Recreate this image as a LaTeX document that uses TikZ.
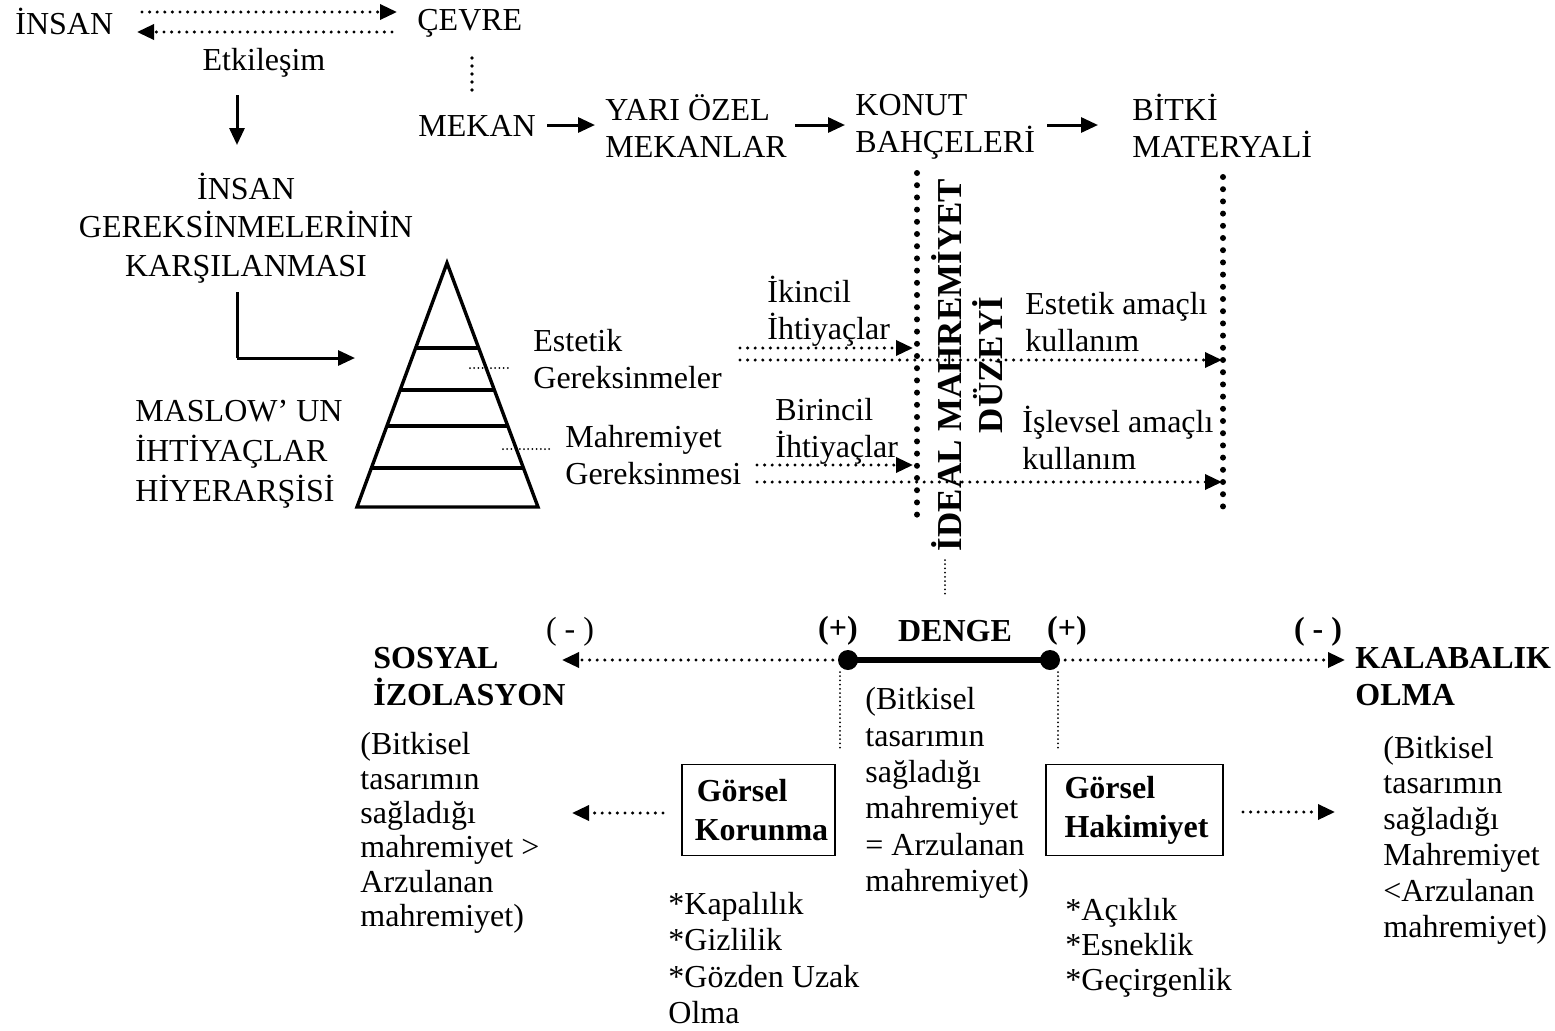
\documentclass[tikz,border=0pt]{standalone}
\usepackage{fontspec}
\setmainfont{Liberation Serif}
\usetikzlibrary{arrows.meta,calc}
\begin{document}
\begin{tikzpicture}[x=0.5pt,y=-0.5pt,
  txt/.style={inner sep=0pt, anchor=west, align=left, font=\fontsize{16}{18.5}\selectfont},
  ctxt/.style={inner sep=0pt, align=center, font=\fontsize{16}{18.5}\selectfont},
  btxt/.style={inner sep=0pt, anchor=west, align=left, font=\bfseries\fontsize{16}{18.5}\selectfont},
  cbtxt/.style={inner sep=0pt, align=center, font=\bfseries\fontsize{16}{18.5}\selectfont},
  dotarrow/.style={line width=1.7pt, line cap=round, dash pattern=on 0pt off 3.8pt, -{Triangle[length=8.5pt,width=7.5pt]}},
  bigdots/.style={line width=3pt, line cap=round, dash pattern=on 0pt off 6.1pt},
  middots/.style={line width=1.9pt, line cap=round, dash pattern=on 0pt off 4pt},
  thindots/.style={line width=1pt, line cap=round, dash pattern=on 0pt off 2.1pt},
  solidarrow/.style={line width=1.5pt, -{Triangle[length=8.5pt,width=7.5pt]}},
  boxnode/.style={draw, line width=0.8pt, minimum width=76.5pt, minimum height=45.5pt, inner sep=0pt, align=left, font=\bfseries\fontsize{16}{19.5}\selectfont},
]
\useasboundingbox (0,0) rectangle (1555,1030);
\fill[white] (0,0) rectangle (1555,1030);

% ---- top row
\node[txt] (insan) at (15,21) {İNSAN};
\node[txt] (cevre) at (417,23) {ÇEVRE};
\node[ctxt] (etk) at (264,63) {Etkileşim};
\coordinate (a1s) at (142,12); \coordinate (a1e) at (397,12);
\coordinate (a2s) at (392,32); \coordinate (a2e) at (137,32);
\draw[dotarrow] (a1s) -- (a1e);
\draw[dotarrow] (a2s) -- (a2e);
\coordinate (cv1) at (472,58); \coordinate (cv2) at (472,92);
\draw[middots] (cv1) -- (cv2);

% ---- second row
\node[txt] (mekan) at (418,126) {MEKAN};
\node[txt] (yari) at (605,126) {YARI ÖZEL\\MEKANLAR};
\node[txt] (konut) at (855,127) {KONUT\\BAHÇELERİ};
\node[txt] (bitki) at (1132,126) {BİTKİ\\MATERYALİ};
\coordinate (m1) at (547,125); \coordinate (m2) at (595,125);
\coordinate (y1) at (795,125); \coordinate (y2) at (845,125);
\coordinate (k1) at (1047,125); \coordinate (k2) at (1098,125);
\draw[solidarrow] (m1) -- (m2);
\draw[solidarrow] (y1) -- (y2);
\draw[solidarrow] (k1) -- (k2);

% ---- left column
\coordinate (d1) at (237,95); \coordinate (d2) at (237,145);
\draw[solidarrow] (d1) -- (d2);
\node[ctxt, font=\fontsize{16}{19.25}\selectfont] (ihtiyac) at (246,228) {İNSAN\\GEREKSİNMELERİNİN\\KARŞILANMASI};
\coordinate (l1) at (237,292); \coordinate (l2) at (237,358); \coordinate (l3) at (355,358);
\draw[line width=1.5pt] (l1) -- (l2);
\draw[solidarrow] (l2) -- (l3);
\node[txt, font=\fontsize{16}{20}\selectfont] (maslow) at (135,454) {MASLOW’ UN\\İHTİYAÇLAR\\HİYERARŞİSİ};

% ---- pyramid
\coordinate (pa) at (447,263); \coordinate (pl) at (357,507); \coordinate (pr) at (538,507);
\draw[line width=1.7pt, line join=miter] (pa) -- (pr) -- (pl) -- cycle;
\foreach \t in {0.3484,0.5205,0.668,0.840}
  \draw[line width=1.6pt] ($(pa)!\t!(pl)$) -- ($(pa)!\t!(pr)$);
\node[txt] (estg) at (533,359) {Estetik\\Gereksinmeler};
\node[txt] (mahg) at (565,455) {Mahremiyet\\Gereksinmesi};
\coordinate (e1) at (470,368); \coordinate (e2) at (510,368);
\coordinate (g1) at (503,449); \coordinate (g2) at (553,449);
\draw[thindots] (e1) -- (e2);
\draw[thindots] (g1) -- (g2);

% ---- middle right
\coordinate (v1a) at (917,173); \coordinate (v1b) at (917,520);
\coordinate (v2a) at (1223,177); \coordinate (v2b) at (1223,512);
\draw[bigdots] (v1a) -- (v1b);
\draw[bigdots] (v2a) -- (v2b);
\node[rotate=90, inner sep=0pt, align=center, font=\bfseries\fontsize{17.5}{20.5}\selectfont] (ideal) at (967.5,365) {İDEAL MAHREMİYET\\DÜZEYİ};
\node[txt] (ikincil) at (767,311) {İkincil\\İhtiyaçlar};
\node[txt] (birincil) at (775,431) {Birincil\\İhtiyaçlar};
\node[txt] (estamac) at (1025,322) {Estetik amaçlı\\kullanım};
\node[txt] (islamac) at (1022,438) {İşlevsel amaçlı\\kullanım};
\coordinate (s1a) at (740,348); \coordinate (s1b) at (913,348);
\coordinate (s2a) at (740,360); \coordinate (s2b) at (1222,360);
\coordinate (p1a) at (757,465); \coordinate (p1b) at (913,465);
\coordinate (p2a) at (757,482); \coordinate (p2b) at (1222,482);
\draw[dotarrow] (s1a) -- (s1b);
\draw[dotarrow] (s2a) -- (s2b);
\draw[dotarrow] (p1a) -- (p1b);
\draw[dotarrow] (p2a) -- (p2b);

% ---- balance line
\coordinate (dv1) at (945,560); \coordinate (dv2) at (945,597);
\draw[thindots] (dv1) -- (dv2);
\node[cbtxt] (plusl) at (838,631) {(+)};
\node[cbtxt] (denge) at (955,631) {DENGE};
\node[cbtxt] (plusr) at (1067,631) {(+)};
\node[ctxt] (minusl) at (570,632) {( - )};
\node[cbtxt] (minusr) at (1318,632) {( - )};
\coordinate (cl) at (848,660); \coordinate (cr) at (1050,660);
\coordinate (tl) at (562,660); \coordinate (tr) at (1345,660);
\draw[dotarrow] (cl) -- (tl);
\draw[dotarrow] (cr) -- (tr);
\draw[line width=2.6pt] (cl) -- (cr);
\fill (cl) circle[radius=5pt];
\fill (cr) circle[radius=5pt];
\node[btxt] (sosyal) at (373,677) {SOSYAL\\İZOLASYON};
\node[btxt] (kalab) at (1355,677) {KALABALIK\\OLMA};
\coordinate (vl1) at (840,672); \coordinate (vl2) at (840,748);
\coordinate (vr1) at (1058,672); \coordinate (vr2) at (1058,748);
\draw[thindots] (vl1) -- (vl2);
\draw[thindots] (vr1) -- (vr2);

% ---- bottom
\node[txt, font=\fontsize{16}{17.2}\selectfont] (leftp) at (360,833) {(Bitkisel\\tasarımın\\sağladığı\\mahremiyet >\\Arzulanan\\mahremiyet)};
\node[txt, font=\fontsize{16}{18.2}\selectfont] (midp) at (865,793) {(Bitkisel\\tasarımın\\sağladığı\\mahremiyet\\= Arzulanan\\mahremiyet)};
\node[txt, font=\fontsize{16}{17.9}\selectfont] (rightp) at (1383,840) {(Bitkisel\\tasarımın\\sağladığı\\Mahremiyet\\<Arzulanan\\mahremiyet)};
\node[boxnode] (korunma) at (758.5,810) {\hspace*{4pt}Görsel\\\hspace*{3pt}Korunma};
\node[boxnode, minimum width=88.5pt] (hakim) at (1134.5,810) {\hspace*{2pt}Görsel\\\hspace*{2pt}Hakimiyet};
\coordinate (sa1) at (663,813); \coordinate (sa2) at (572,813);
\coordinate (sb1) at (1243,812); \coordinate (sb2) at (1335,812);
\draw[dotarrow] (sa1) -- (sa2);
\draw[dotarrow] (sb1) -- (sb2);
\node[txt, font=\fontsize{16}{18.3}\selectfont] (kapali) at (668,958) {*Kapalılık\\*Gizlilik\\*Gözden Uzak\\Olma};
\node[txt, font=\fontsize{16}{17.6}\selectfont] (acik) at (1065,948) {*Açıklık\\*Esneklik\\*Geçirgenlik};
\end{tikzpicture}
\end{document}
